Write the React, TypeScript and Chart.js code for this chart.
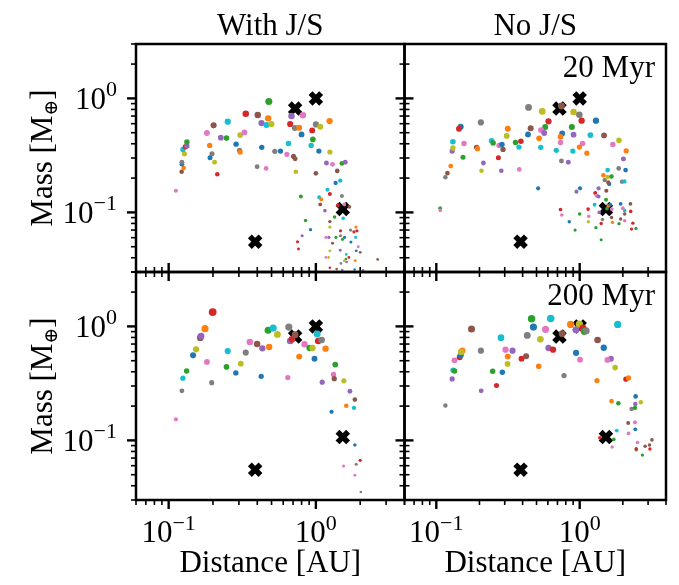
import React, { useEffect, useRef } from "react";
import { Chart, registerables } from "chart.js";

Chart.register(...registerables);

// ---------------- data ----------------
const SOLAR_NAMES = ["Mercury", "Venus", "Earth", "Mars"];
const SOLAR_DIST = [0.387, 0.723, 1.0, 1.524];
const SOLAR_MASS = [0.0553, 0.815, 1.0, 0.107];

const X_MAJOR = [0.1, 1];
const X_MINOR = [0.06, 0.07, 0.08, 0.09, 0.2, 0.3, 0.4, 0.5, 0.6, 0.7, 0.8, 0.9, 2, 3, 4];
const Y_MAJOR = [0.1, 1];
const Y_MINOR = [0.03, 0.04, 0.05, 0.06, 0.07, 0.08, 0.09, 0.2, 0.3, 0.4, 0.5, 0.6, 0.7, 0.8, 0.9, 2, 3];
const TICK_BASE = "10";
const TICK_EXP = ["\u22121", "0"];

const COLUMN_TITLES = ["With J/S", "No J/S"];
const ROW_TAGS = ["20 Myr", "200 Myr"];
const X_TITLE = "Distance [AU]";
const Y_TITLE = ["Mass [M", "\u2295", "]"];

// run index = matplotlib colour cycle C0..C9
// top-left: With J/S, 20 Myr
const TL_DIST = [0.112, 0.1225, 0.1265, 0.123, 0.123, 0.128, 0.125, 0.13, 0.133, 0.133,
  0.182, 0.202, 0.19, 0.197, 0.191, 0.205, 0.214, 0.226, 0.247, 0.252,
  0.287, 0.303, 0.306, 0.306, 0.327, 0.334, 0.403, 0.399, 0.429, 0.459,
  0.479, 0.474, 0.427, 0.462, 0.499, 0.526, 0.575, 0.635, 0.652, 0.705,
  0.723, 0.731, 0.669, 0.72, 0.77, 0.683, 0.816, 0.799, 0.791, 0.851,
  0.92, 0.807, 0.75, 0.762, 0.944, 1.0, 1.07, 1.239, 0.954, 0.929,
  1.048, 1.245, 1.0, 1.18, 1.298, 1.397, 1.503, 1.584, 1.464, 1.361,
  1.2, 1.245, 1.503, 1.054, 1.087, 1.07, 1.41, 1.56, 1.69, 1.152,
  1.34, 1.534, 1.245, 1.245, 1.47, 1.722, 1.871, 1.814, 1.9, 1.47,
  1.17, 1.225, 1.368, 1.567, 1.862, 1.517, 1.73, 1.298, 1.464, 1.245,
  1.94, 1.88, 2.0, 1.608, 1.17, 1.22, 1.676, 1.6, 1.56, 1.617,
  1.479, 1.852, 2.63, 1.245, 1.383, 1.51, 1.833, 2.09];
const TL_MASS = [0.155, 0.227, 0.245, 0.265, 0.275, 0.327, 0.357, 0.377, 0.382, 0.414,
  0.497, 0.58, 0.387, 0.327, 0.302, 0.275, 0.216, 0.452, 0.449, 0.624,
  0.397, 0.35, 0.338, 0.477, 0.503, 0.733, 0.714, 0.252, 0.372, 0.243,
  0.94, 0.668, 0.608, 0.584, 0.596, 0.343, 0.345, 0.323, 0.403, 0.31,
  0.296, 0.227, 0.596, 0.549, 0.553, 0.7, 0.71, 0.483, 0.138, 0.085,
  0.0705, 0.0624, 0.0553, 0.0477, 0.524, 0.591, 0.564, 0.633, 0.437, 0.387,
  0.345, 0.338, 0.22, 0.271, 0.264, 0.231, 0.269, 0.275, 0.19, 0.181,
  0.158, 0.145, 0.139, 0.136, 0.13, 0.1175, 0.116, 0.1175, 0.112, 0.1035,
  0.091, 0.089, 0.083, 0.0743, 0.069, 0.07, 0.0743, 0.0676, 0.069, 0.0624,
  0.0604, 0.0604, 0.0604, 0.0604, 0.0604, 0.058, 0.055, 0.0535, 0.0465, 0.046,
  0.05, 0.046, 0.0446, 0.0428, 0.0403, 0.0403, 0.0403, 0.039, 0.0377, 0.0367,
  0.0357, 0.0377, 0.0387, 0.0327, 0.0318, 0.0312, 0.0316, 0.031];
const TL_RUN = [6, 5, 1, 0, 7, 8, 9, 3, 4, 2,
  6, 5, 1, 7, 0, 8, 3, 4, 2, 9,
  0, 7, 1, 8, 6, 3, 5, 7, 0, 6,
  2, 1, 4, 9, 8, 7, 0, 6, 9, 5,
  5, 8, 3, 7, 1, 4, 6, 0, 2, 2,
  0, 4, 3, 3, 3, 7, 8, 1, 2, 9,
  0, 8, 5, 4, 6, 5, 2, 4, 9, 0,
  9, 3, 7, 9, 1, 5, 3, 6, 5, 4,
  2, 9, 5, 8, 3, 7, 1, 3, 3, 7,
  6, 4, 2, 0, 9, 2, 0, 5, 4, 8,
  6, 0, 5, 9, 6, 8, 3, 2, 8, 4,
  7, 1, 5, 3, 5, 4, 0, 4];

// top-right: No J/S, 20 Myr
const TR_DIST = [0.1064, 0.1066, 0.1157, 0.1195, 0.126, 0.129, 0.1305, 0.1305, 0.148, 0.144,
  0.1535, 0.156, 0.2046, 0.191, 0.194, 0.2066, 0.213, 0.243, 0.249, 0.274,
  0.287, 0.292, 0.271, 0.284, 0.31, 0.315, 0.357, 0.389, 0.377, 0.379,
  0.44, 0.455, 0.436, 0.521, 0.535, 0.548, 0.606, 0.575, 0.537, 0.566,
  0.513, 0.746, 0.687, 0.746, 0.755, 0.735, 0.735, 0.833, 0.906, 0.995,
  1.032, 0.882, 0.906, 0.896, 1.048, 0.995, 1.122, 1.298, 1.188, 1.479,
  1.88, 1.703, 2.11, 2.02, 1.871, 2.09, 1.567, 1.464, 1.495, 1.567,
  1.668, 1.608, 1.584, 1.972, 2.05, 1.354, 1.534, 1.284, 1.312, 1.354,
  1.005, 0.949, 1.527, 1.584, 1.633, 1.271, 1.145, 1.55, 1.368, 1.676,
  1.442, 1.412, 1.668, 1.694, 1.93, 2.26, 2.0, 2.06, 2.06, 2.27,
  1.93, 2.06, 1.88, 2.35, 2.3, 2.47, 1.15, 1.157, 0.735, 0.75,
  0.846, 1.0, 0.929, 1.412, 1.298];
const TR_MASS = [0.109, 0.104, 0.203, 0.221, 0.255, 0.345, 0.367, 0.417, 0.564, 0.542,
  0.304, 0.403, 0.616, 0.372, 0.362, 0.232, 0.271, 0.425, 0.406, 0.387,
  0.395, 0.357, 0.302, 0.232, 0.468, 0.542, 0.411, 0.42, 0.374, 0.238,
  0.834, 0.546, 0.483, 0.446, 0.372, 0.769, 0.629, 0.561, 0.527, 0.497,
  0.1625, 0.282, 0.35, 0.857, 0.493, 0.461, 0.411, 0.275, 0.759, 0.719,
  0.637, 0.561, 0.48, 0.345, 0.403, 0.374, 0.331, 0.637, 0.477, 0.473,
  0.428, 0.395, 0.347, 0.294, 0.243, 0.235, 0.235, 0.212, 0.192, 0.204,
  0.206, 0.177, 0.183, 0.186, 0.187, 0.1625, 0.155, 0.148, 0.14, 0.138,
  0.1625, 0.152, 0.129, 0.114, 0.1167, 0.1167, 0.107, 0.108, 0.1, 0.107,
  0.0868, 0.08, 0.0904, 0.0817, 0.119, 0.119, 0.109, 0.1035, 0.0967, 0.102,
  0.0874, 0.0845, 0.0796, 0.0805, 0.0714, 0.0724, 0.0828, 0.0923, 0.106, 0.0948,
  0.0828, 0.0967, 0.07, 0.0576, 0.0734];
const TR_RUN = [2, 6, 7, 5, 1, 4, 8, 9, 0, 3,
  2, 6, 7, 5, 1, 8, 4, 9, 2, 6,
  0, 5, 3, 4, 8, 1, 2, 3, 9, 6,
  7, 5, 0, 1, 9, 8, 3, 2, 6, 4,
  0, 7, 9, 5, 0, 1, 6, 4, 8, 7,
  3, 2, 4, 9, 6, 1, 1, 0, 9, 5,
  8, 6, 1, 4, 7, 0, 9, 1, 7, 8,
  2, 0, 5, 7, 9, 4, 5, 3, 6, 4,
  0, 4, 2, 1, 0, 9, 3, 2, 4, 6,
  7, 3, 5, 1, 0, 5, 6, 9, 5, 3,
  5, 6, 2, 3, 3, 2, 8, 6, 3, 6,
  0, 2, 2, 2, 2];

// bottom-left: With J/S, 200 Myr
const BL_DIST = [0.112, 0.123, 0.125, 0.1325, 0.1465, 0.1535, 0.164, 0.166, 0.1766, 0.199,
  0.182, 0.196, 0.252, 0.247, 0.286, 0.309, 0.334, 0.356, 0.399, 0.433,
  0.425, 0.482, 0.474, 0.513, 0.548, 0.655, 0.669, 0.687, 0.723, 0.645,
  0.837, 0.77, 0.906, 0.949, 1.021, 1.037, 1.094, 1.164, 0.979, 1.354,
  1.318, 1.333, 1.104, 1.55, 1.703, 1.84, 1.608, 1.814, 1.278, 1.84,
  2.0, 1.88, 1.542, 1.84, 2.02];
const BL_MASS = [0.153, 0.272, 0.351, 0.407, 0.557, 0.629, 0.796, 0.823, 0.955, 1.334,
  0.488, 0.321, 0.608, 0.441, 0.391, 0.471, 0.589, 0.73, 0.7, 0.642,
  0.365, 0.659, 0.923, 0.966, 0.851, 0.986, 0.744, 0.77, 0.845, 0.356,
  0.696, 0.543, 0.646, 0.646, 0.857, 0.744, 0.759, 0.638, 0.521, 0.462,
  0.378, 0.348, 0.324, 0.333, 0.27, 0.228, 0.201, 0.193, 0.178, 0.091,
  0.0668, 0.0617, 0.0597, 0.0494, 0.0353];
const BL_RUN = [6, 7, 9, 2, 0, 8, 5, 4, 1, 3,
  6, 7, 9, 2, 0, 8, 7, 6, 5, 4,
  0, 1, 2, 9, 8, 7, 4, 3, 5, 6,
  6, 1, 2, 8, 9, 3, 7, 1, 0, 2,
  6, 5, 4, 8, 4, 5, 1, 9, 0, 0,
  3, 7, 6, 6, 7];

// bottom-right: No J/S, 200 Myr
const BR_DIST = [0.1157, 0.129, 0.131, 0.134, 0.134, 0.1456, 0.148, 0.1518, 0.1486, 0.176,
  0.2046, 0.2056, 0.247, 0.263, 0.2826, 0.2886, 0.304, 0.34, 0.315, 0.314,
  0.393, 0.423, 0.431, 0.476, 0.462, 0.532, 0.518, 0.578, 0.628, 0.606,
  0.652, 0.778, 0.755, 0.865, 0.944, 0.995, 1.054, 1.076, 1.11, 0.944,
  1.005, 1.333, 1.472, 1.842, 1.651, 1.56, 1.767, 1.319, 2.1, 2.19,
  1.668, 1.862, 2.455, 2.443, 2.67, 2.3, 2.43, 2.18, 2.43, 2.443,
  2.19, 1.814, 1.383, 1.73, 1.686, 2.53, 2.48, 2.74, 2.86, 3.07,
  3.09, 3.19, 2.48];
const BR_MASS = [0.202, 0.346, 0.412, 0.407, 0.504, 0.536, 0.557, 0.612, 0.597, 0.948,
  0.612, 0.272, 0.404, 0.303, 0.796, 0.396, 0.625, 0.612, 0.543, 0.469,
  0.521, 0.547, 0.834, 0.986, 1.167, 0.77, 0.447, 0.941, 1.175, 0.646,
  0.625, 0.37, 0.863, 1.04, 0.935, 1.048, 0.967, 0.904, 0.916, 0.585,
  0.511, 0.759, 0.65, 1.04, 0.521, 0.508, 0.435, 0.335, 0.344, 0.353,
  0.221, 0.212, 0.243, 0.209, 0.216, 0.189, 0.193, 0.142, 0.144, 0.125,
  0.115, 0.122, 0.1055, 0.102, 0.0875, 0.096, 0.0828, 0.0744, 0.0887, 0.091,
  0.084, 0.101, 0.0845];
const BR_RUN = [7, 4, 9, 2, 6, 3, 0, 1, 8, 5,
  7, 4, 2, 3, 9, 0, 6, 4, 1, 8,
  3, 5, 7, 0, 2, 8, 1, 6, 9, 4,
  3, 7, 5, 1, 4, 8, 3, 2, 7, 0,
  6, 5, 0, 9, 4, 6, 8, 1, 3, 1,
  1, 2, 0, 4, 8, 7, 2, 5, 6, 0,
  6, 9, 3, 2, 6, 6, 2, 2, 5, 5,
  3, 5, 3];

// ---------------- style / layout ----------------
const TAB10 = ["#1f77b4", "#ff7f0e", "#2ca02c", "#d62728", "#9467bd",
  "#8c564b", "#e377c2", "#7f7f7f", "#bcbd22", "#17becf"];
const W = 679;
const H = 585;
const COL_X = [136, 404.5, 673];
const ROW_Y = [44, 272, 500];
const FONT = '"Liberation Serif", "Times New Roman", serif';
const dotRadius = (m: number) => 3.6 * Math.pow(m, 0.3);

const mplAxes = {
  id: "mplAxes",
  afterDraw(chart: any, _args: any, o: any) {
    const { ctx, chartArea: a } = chart;
    const xs = chart.scales.x;
    const ys = chart.scales.y;
    ctx.save();
    ctx.strokeStyle = "#000";
    ctx.fillStyle = "#000";
    ctx.lineCap = "butt";
    const seg = (x1: number, y1: number, x2: number, y2: number, w: number) => {
      ctx.lineWidth = w;
      ctx.beginPath();
      ctx.moveTo(x1, y1);
      ctx.lineTo(x2, y2);
      ctx.stroke();
    };
    const t = o.ticks;
    const ySets: any[] = [[Y_MAJOR, 9, 2.4], [Y_MINOR, 5, 1.6]];
    for (const [vals, len, w] of ySets) {
      for (const v of vals) {
        const py = ys.getPixelForValue(v);
        if (t.left) seg(a.left, py, a.left - len, py, w);
        if (t.right) seg(a.right, py, a.right + len, py, w);
      }
    }
    const xSets: any[] = [[X_MAJOR, 9, 2.4], [X_MINOR, 5, 1.6]];
    for (const [vals, len, w] of xSets) {
      for (const v of vals) {
        const px = xs.getPixelForValue(v);
        if (t.bottom) seg(px, a.bottom, px, a.bottom + len, w);
        if (t.top) seg(px, a.top, px, a.top - len, w);
      }
    }
    ctx.lineWidth = 2.5;
    ctx.strokeRect(a.left, a.top, a.right - a.left, a.bottom - a.top);

    const big = `31px ${FONT}`;
    const small = `22px ${FONT}`;
    ctx.textBaseline = "alphabetic";
    const drawPow = (exp: string, x: number, y: number, align: string) => {
      ctx.font = big;
      const w1 = ctx.measureText(TICK_BASE).width;
      ctx.font = small;
      const w2 = ctx.measureText(exp).width;
      const x0 = align === "right" ? x - w1 - w2 : x - (w1 + w2) / 2;
      ctx.textAlign = "left";
      ctx.font = big;
      ctx.fillText(TICK_BASE, x0, y);
      ctx.font = small;
      ctx.fillText(exp, x0 + w1, y - 12.5);
    };
    if (o.yLabels) {
      Y_MAJOR.forEach((v, i) => drawPow(TICK_EXP[i], a.left - 19, ys.getPixelForValue(v) + 10.5, "right"));
    }
    if (o.xLabels) {
      X_MAJOR.forEach((v, i) => drawPow(TICK_EXP[i], xs.getPixelForValue(v), a.bottom + 42, "center"));
    }
    const cx = (a.left + a.right) / 2;
    const cy = (a.top + a.bottom) / 2;
    if (o.title) {
      ctx.font = big;
      ctx.textAlign = "center";
      ctx.fillText(o.title, cx, a.top - 9);
    }
    if (o.tag) {
      ctx.font = big;
      ctx.textAlign = "right";
      ctx.fillText(o.tag, a.right - 11, a.top + 33);
    }
    if (o.xTitle) {
      ctx.font = big;
      ctx.textAlign = "center";
      ctx.fillText(X_TITLE, cx, a.bottom + 72);
    }
    if (o.yTitle) {
      ctx.save();
      ctx.translate(52, cy);
      ctx.rotate(-Math.PI / 2);
      ctx.textAlign = "left";
      const subFont = `19px "DejaVu Serif", ${FONT}`;
      ctx.font = big;
      const w1 = ctx.measureText(Y_TITLE[0]).width;
      const w3 = ctx.measureText(Y_TITLE[2]).width;
      ctx.font = subFont;
      const w2 = ctx.measureText(Y_TITLE[1]).width;
      let x = -(w1 + w2 + w3) / 2;
      ctx.font = big;
      ctx.fillText(Y_TITLE[0], x, 0);
      x += w1;
      ctx.font = subFont;
      ctx.fillText(Y_TITLE[1], x, 5);
      x += w2;
      ctx.font = big;
      ctx.fillText(Y_TITLE[2], x, 0);
      ctx.restore();
    }
    ctx.restore();
  },
};

const PANELS = [
  { key: "tl", dist: TL_DIST, mass: TL_MASS, run: TL_RUN, col: 0, row: 0, ticks: { left: true, right: true, top: false, bottom: true } },
  { key: "tr", dist: TR_DIST, mass: TR_MASS, run: TR_RUN, col: 1, row: 0, ticks: { left: true, right: false, top: false, bottom: true } },
  { key: "bl", dist: BL_DIST, mass: BL_MASS, run: BL_RUN, col: 0, row: 1, ticks: { left: true, right: true, top: true, bottom: true } },
  { key: "br", dist: BR_DIST, mass: BR_MASS, run: BR_RUN, col: 1, row: 1, ticks: { left: true, right: false, top: true, bottom: true } },
];

function buildConfig(p: any): any {
  const dots = p.dist.map((d: number, i: number) => ({ x: d, y: p.mass[i], run: p.run[i] }));
  const solar = SOLAR_DIST.map((d, i) => ({ x: d, y: SOLAR_MASS[i], name: SOLAR_NAMES[i] }));
  const left = COL_X[p.col];
  const right = COL_X[p.col + 1];
  const top = ROW_Y[p.row];
  const bottom = ROW_Y[p.row + 1];
  return {
    type: "scatter",
    data: {
      datasets: [
        {
          label: "planets",
          data: dots,
          pointRadius: (c: any) => (c.raw ? dotRadius(c.raw.y) : 3),
          pointHoverRadius: (c: any) => (c.raw ? dotRadius(c.raw.y) : 3),
          pointBackgroundColor: (c: any) => (c.raw ? TAB10[c.raw.run] : TAB10[0]),
          pointBorderWidth: 0,
          clip: 0,
        },
        {
          label: "Solar System",
          data: solar,
          pointStyle: "crossRot",
          pointRadius: 7.5,
          pointHoverRadius: 7.5,
          pointBorderColor: "#000",
          pointBackgroundColor: "#000",
          pointBorderWidth: 5.5,
          pointHoverBorderWidth: 5.5,
          clip: 0,
        },
      ],
    },
    options: {
      responsive: false,
      animation: false,
      devicePixelRatio: 1,
      events: [],
      layout: { padding: { left, top, right: W - right, bottom: H - bottom } },
      scales: {
        x: { type: "logarithmic", min: 0.06, max: 4, display: false },
        y: { type: "logarithmic", min: 0.03, max: 3, display: false },
      },
      plugins: {
        legend: { display: false },
        tooltip: { enabled: false },
        mplAxes: {
          ticks: p.ticks,
          yLabels: p.col === 0,
          xLabels: p.row === 1,
          title: p.row === 0 ? COLUMN_TITLES[p.col] : null,
          tag: p.col === 1 ? ROW_TAGS[p.row] : null,
          xTitle: p.row === 1,
          yTitle: p.col === 0,
        },
      },
    },
    plugins: [mplAxes],
  };
}

function Panel({ panel }: { panel: any }) {
  const ref = useRef<HTMLCanvasElement>(null);
  useEffect(() => {
    const chart = new Chart(ref.current as HTMLCanvasElement, buildConfig(panel));
    return () => chart.destroy();
  }, [panel]);
  return (
    <canvas
      ref={ref}
      width={W}
      height={H}
      style={{ position: "absolute", left: 0, top: 0, width: W, height: H }}
    />
  );
}

export default function App() {
  return (
    <div style={{ position: "absolute", left: 0, top: 0, width: W, height: H, background: "#fff", overflow: "hidden" }}>
      {PANELS.map((p) => (
        <Panel key={p.key} panel={p} />
      ))}
    </div>
  );
}
